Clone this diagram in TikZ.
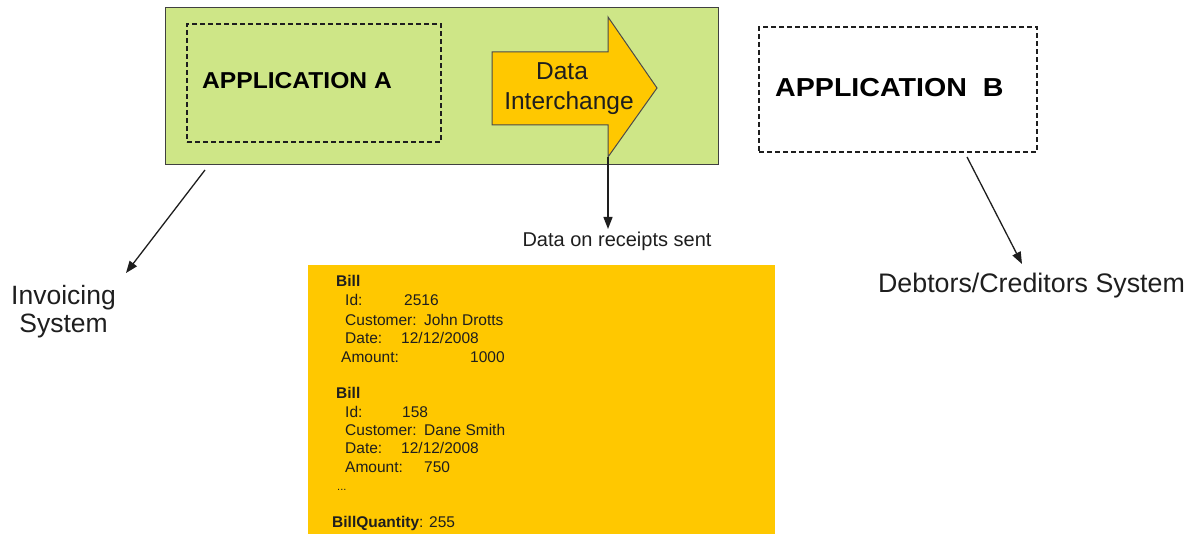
\documentclass[tikz,border=0pt]{standalone}
\usepackage{fontspec}
\setmainfont{Liberation Sans}
\usetikzlibrary{arrows.meta}
\definecolor{appgreen}{RGB}{206,230,135}
\definecolor{gold}{RGB}{255,200,0}
\definecolor{ink}{RGB}{30,30,30}
\newcommand{\fs}[1]{\fontsize{#1}{#1}\selectfont}
\begin{document}
\begin{tikzpicture}[x=1pt,y=-1pt,
  box/.style={anchor=north west,inner sep=0pt,outer sep=0pt},
  dashbox/.style={box,draw=ink,line width=1.1pt,dash pattern=on 5pt off 3pt},
  conn/.style={draw=ink,line width=1.3pt,-{Triangle[length=12pt,width=9pt]}},
  lbl/.style={inner sep=0pt,anchor=base,text=ink},
  bill/.style={inner sep=0pt,anchor=base west,text=ink,font=\fs{15.5}}]
\useasboundingbox (0,0) rectangle (1201,534);

% application A frame with its inner dashed area
\node[box,draw=ink!85,line width=1pt,fill=appgreen,minimum width=553pt,minimum height=157pt] (sysA) at (165,8) {};
\node[dashbox,minimum width=254pt,minimum height=118pt] (appA) at (187,24) {};
\node[inner sep=0pt,anchor=base west,font=\bfseries\fs{23}] (appAT) at (202,89) {\scalebox{1.07}[1]{APPLICATION A}};

% data interchange block arrow
\draw[fill=gold,draw=ink!80,line width=1pt] (492,52) -- (608,52) -- (608,17) -- (657,88)
  -- (608,157) -- (608,125) -- (492,125) -- cycle;
\coordinate (headbot) at (608,157);
\node[lbl,font=\fs{24.5}] (dataT) at (562,80) {Data};
\node[lbl,font=\fs{24.5}] (interT) at (569,110) {Interchange};

% application B
\node[dashbox,minimum width=278pt,minimum height=125pt] (appB) at (759,27) {};
\node[inner sep=0pt,anchor=base west,font=\bfseries\fs{26}] (appBT) at (775,97) {\scalebox{1.1}[1]{APPLICATION\ \ B}};

% receipts payload
\node[box,fill=gold,minimum width=467pt,minimum height=269pt] (bills) at (308,265) {};
\node[bill,font=\bfseries\fs{15.5}] (b1) at (336,287) {Bill};
\node[bill] (b1i) at (345,306) {Id:};
\node[bill] (b1iv) at (404,306) {2516};
\node[bill] (b1c) at (345,325) {Customer:};
\node[bill] (b1cv) at (424,325) {John Drotts};
\node[bill] (b1d) at (345,343) {Date:};
\node[bill] (b1dv) at (401,343) {12/12/2008};
\node[bill] (b1a) at (341,362) {Amount:};
\node[bill] (b1av) at (470,362) {1000};
\node[bill,font=\bfseries\fs{15.5}] (b2) at (336,398) {Bill};
\node[bill] (b2i) at (345,417) {Id:};
\node[bill] (b2iv) at (402,417) {158};
\node[bill] (b2c) at (345,435) {Customer:};
\node[bill] (b2cv) at (424,435) {Dane Smith};
\node[bill] (b2d) at (345,453) {Date:};
\node[bill] (b2dv) at (401,453) {12/12/2008};
\node[bill] (b2a) at (345,472) {Amount:};
\node[bill] (b2av) at (424,472) {750};
\node[bill,font=\fs{11}] (more) at (337,490) {...};
\node[bill] (qty) at (332,527) {\textbf{BillQuantity}: 255};

% labels
\node[lbl,font=\fs{20}] (sent) at (617,247) {Data on receipts sent};
\node[lbl,font=\fs{26.5}] (inv1) at (63.5,305) {Invoicing};
\node[lbl,font=\fs{26.5}] (inv2) at (63.5,333) {System};
\node[lbl,font=\fs{26.8}] (debt) at (1031.5,293) {Debtors/Creditors System};

% connectors
\coordinate (invFrom) at (205,170);
\coordinate (invTo) at (126,273);
\coordinate (sentTo) at (608,229);
\coordinate (debtFrom) at (967,157);
\coordinate (debtTo) at (1022,264);
\draw[conn] (invFrom) -- (invTo);
\draw[conn] (headbot) -- (sentTo);
\draw[conn] (debtFrom) -- (debtTo);
\end{tikzpicture}
\end{document}
